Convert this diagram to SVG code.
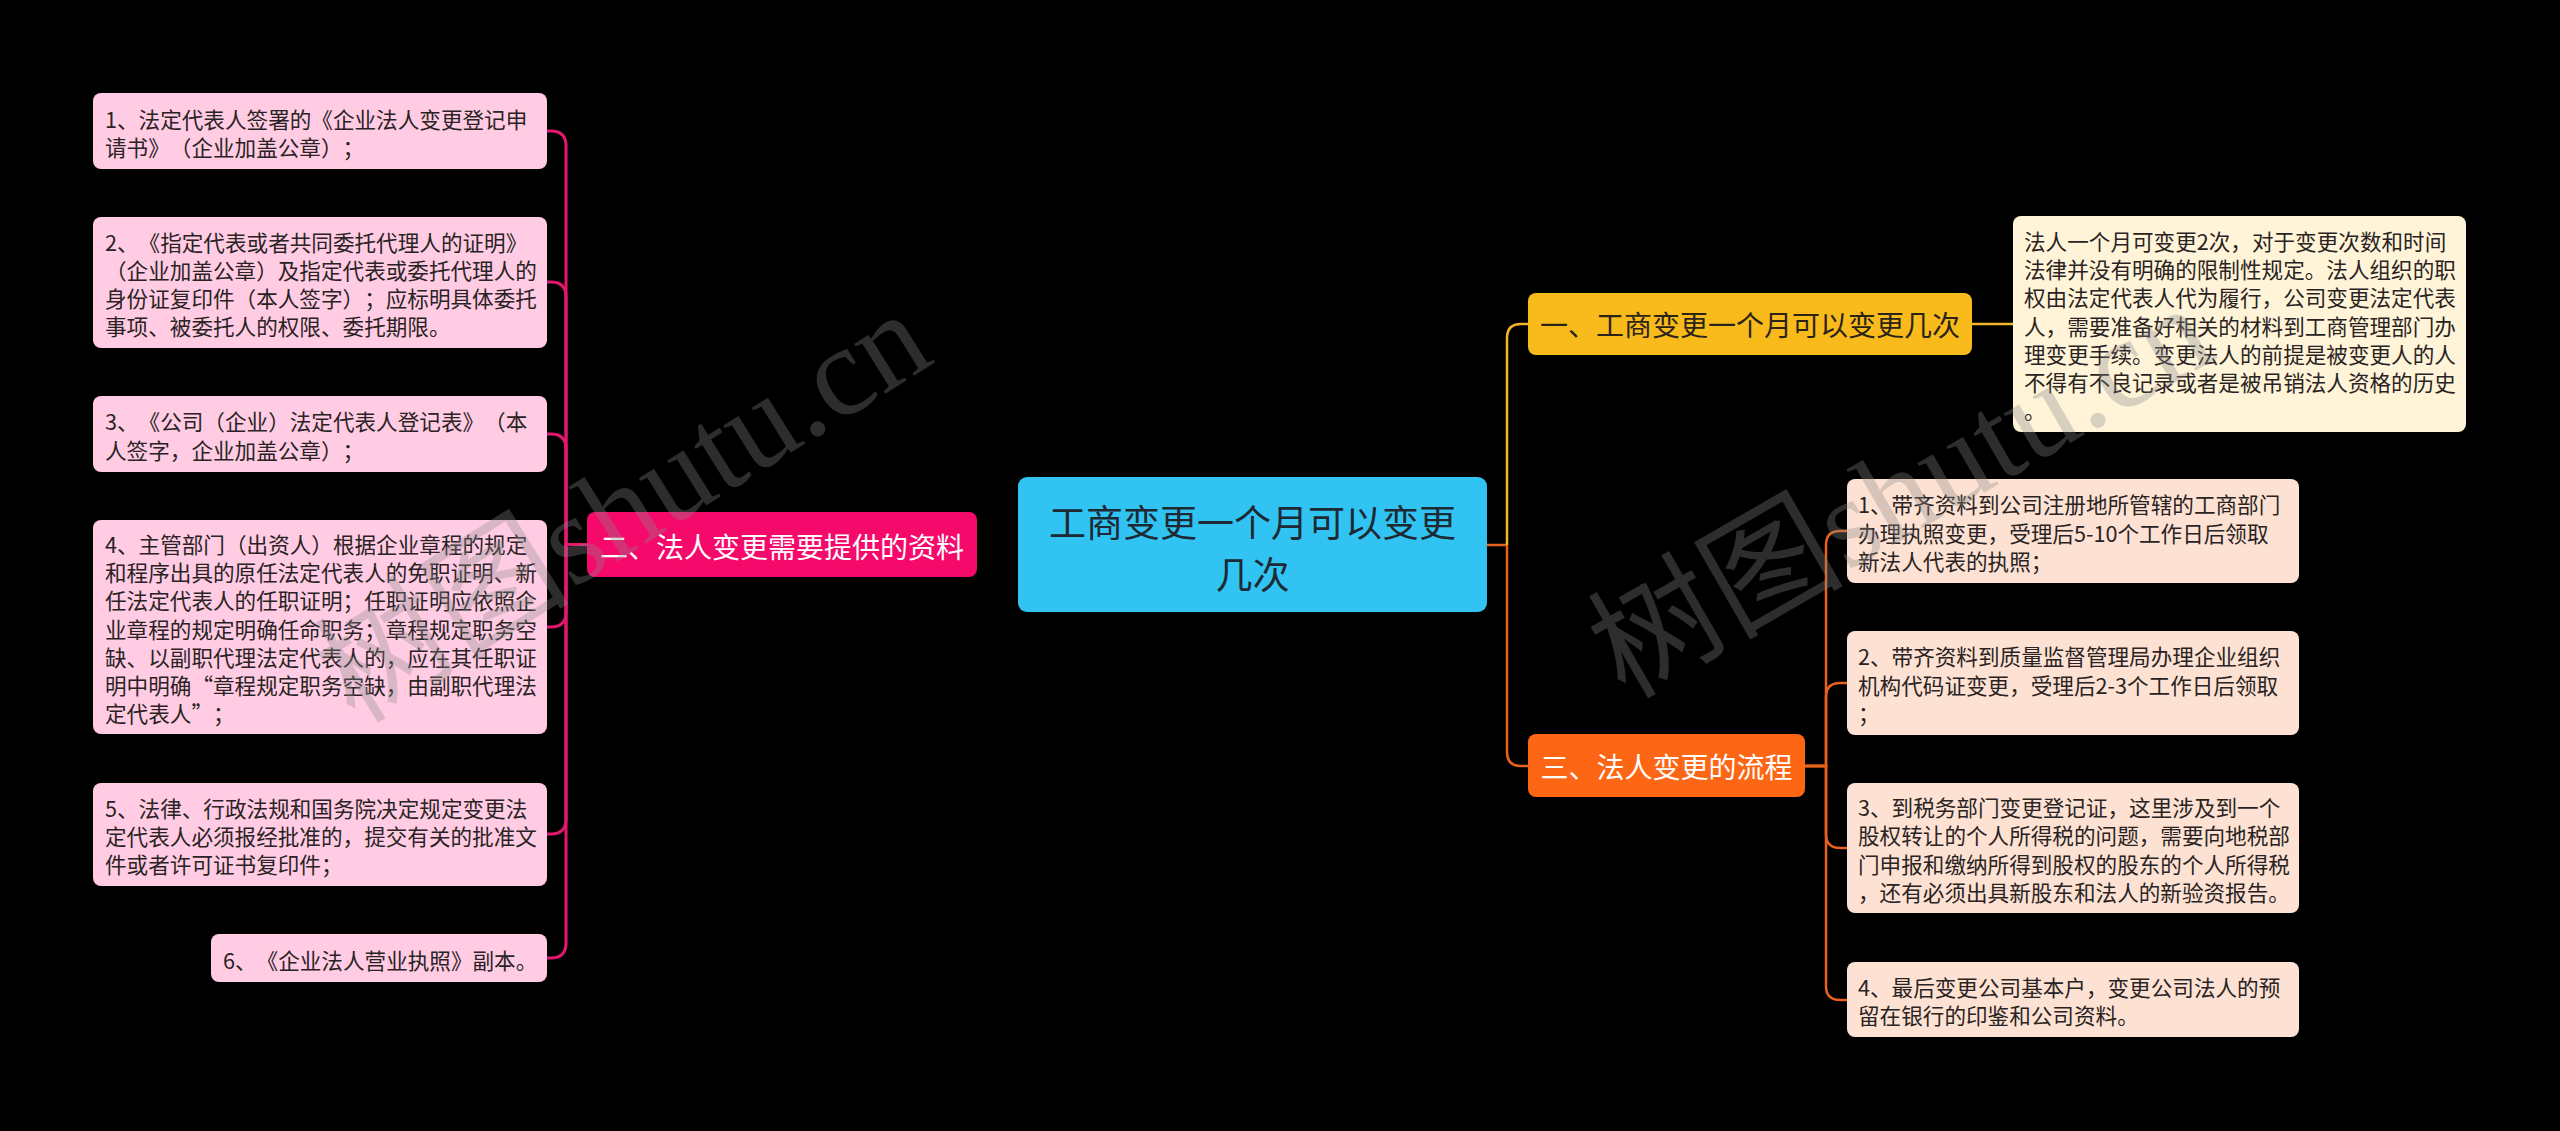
<svg xmlns="http://www.w3.org/2000/svg" width="2560" height="1131" viewBox="0 0 2560 1131">
<style>
text{text-spacing-trim:space-all;}
.t{font-family:"Noto Sans CJK SC","Liberation Sans",sans-serif;font-size:21.6px;fill:#2a2323;}
.b{font-family:"Noto Sans CJK SC","Liberation Sans",sans-serif;font-size:28px;}
.pk{fill:#FFCCE4;}
.pc{fill:#FDE2D3;}
.lp{fill:none;stroke:#E3176E;stroke-width:3;}
.ly{fill:none;stroke:#F3B62A;stroke-width:2.5;}
.lo{fill:none;stroke:#E8621C;stroke-width:2.5;}
.wm{font-family:"Liberation Serif","Noto Sans CJK SC",serif;font-size:128px;fill:#8a8a8a;opacity:0.33;}
</style>
<rect x="0" y="0" width="2560" height="1131" fill="#000000"/>

<g id="connectors">
  <path class="lp" d="M587,544.5 H566 V146 Q566,131 551,131 H547"/>
  <path class="lp" d="M587,544.5 H566 V297 Q566,282 551,282 H547"/>
  <path class="lp" d="M587,544.5 H566 V449 Q566,434 551,434 H547"/>
  <path class="lp" d="M587,544.5 H566 V612 Q566,627 551,627 H547"/>
  <path class="lp" d="M587,544.5 H566 V819 Q566,834 551,834 H547"/>
  <path class="lp" d="M587,544.5 H566 V943 Q566,958 551,958 H547"/>
  <path class="lo" d="M1487,545 H1507"/>
  <path class="ly" d="M1507,545 V338 Q1507,324 1521,324 H1528"/>
  <path class="lo" d="M1507,545 V752 Q1507,766 1521,766 H1528"/>
  <path class="ly" d="M1972,324 H2013"/>
  <path class="lo" d="M1805,766 H1826 V545 Q1826,531 1840,531 H1847"/>
  <path class="lo" d="M1805,766 H1826 V697 Q1826,683 1840,683 H1847"/>
  <path class="lo" d="M1805,766 H1826 V834 Q1826,848 1840,848 H1847"/>
  <path class="lo" d="M1805,766 H1826 V986 Q1826,1000 1840,1000 H1847"/>
</g>

<g id="root">
  <rect x="1018" y="477" width="469" height="135" rx="9" fill="#31C4F3"/>
  <text class="b" x="1252.5" y="537" text-anchor="middle" style="font-size:37px;fill:#1d2a33">工商变更一个月可以变更</text>
  <text class="b" x="1252.5" y="589" text-anchor="middle" style="font-size:37px;fill:#1d2a33">几次</text>
</g>

<g id="branch-2">
  <rect x="587" y="512" width="390" height="65" rx="8" fill="#F5096B"/>
  <text class="b" x="782" y="558" text-anchor="middle" fill="#ffffff">二、法人变更需要提供的资料</text>
</g>

<g id="branch-1">
  <rect x="1528" y="293" width="444" height="62" rx="8" fill="#F9BB1B"/>
  <text class="b" x="1750" y="336" text-anchor="middle" fill="#2a2318">一、工商变更一个月可以变更几次</text>
</g>

<g id="branch-3">
  <rect x="1528" y="734" width="277" height="63" rx="8" fill="#FC6614"/>
  <text class="b" x="1666.5" y="778" text-anchor="middle" fill="#ffffff">三、法人变更的流程</text>
</g>

<g id="l1">
  <rect class="pk" x="93" y="93" width="454" height="76" rx="8"/>
  <text class="t" x="105" y="127.6">1、法定代表人签署的《企业法人变更登记申</text>
  <text class="t" x="105" y="156">请书》（企业加盖公章）；</text>
</g>
<g id="l2">
  <rect class="pk" x="93" y="217" width="454" height="131" rx="8"/>
  <text class="t" x="105" y="250.5">2、《指定代表或者共同委托代理人的证明》</text>
  <text class="t" x="105" y="278.8">（企业加盖公章）及指定代表或委托代理人的</text>
  <text class="t" x="105" y="307.1">身份证复印件（本人签字）；应标明具体委托</text>
  <text class="t" x="105" y="335.4">事项、被委托人的权限、委托期限。</text>
</g>
<g id="l3">
  <rect class="pk" x="93" y="396" width="454" height="76" rx="8"/>
  <text class="t" x="105" y="430.3">3、《公司（企业）法定代表人登记表》（本</text>
  <text class="t" x="105" y="458.6">人签字，企业加盖公章）；</text>
</g>
<g id="l4">
  <rect class="pk" x="93" y="520" width="454" height="214" rx="8"/>
  <text class="t" x="105" y="552.6">4、主管部门（出资人）根据企业章程的规定</text>
  <text class="t" x="105" y="580.9">和程序出具的原任法定代表人的免职证明、新</text>
  <text class="t" x="105" y="609.2">任法定代表人的任职证明；任职证明应依照企</text>
  <text class="t" x="105" y="637.5">业章程的规定明确任命职务；章程规定职务空</text>
  <text class="t" x="105" y="665.8">缺、以副职代理法定代表人的，应在其任职证</text>
  <text class="t" x="105" y="694.1">明中明确“章程规定职务空缺，由副职代理法</text>
  <text class="t" x="105" y="722.4">定代表人”；</text>
</g>
<g id="l5">
  <rect class="pk" x="93" y="783" width="454" height="103" rx="8"/>
  <text class="t" x="105" y="816.7">5、法律、行政法规和国务院决定规定变更法</text>
  <text class="t" x="105" y="845">定代表人必须报经批准的，提交有关的批准文</text>
  <text class="t" x="105" y="873.3">件或者许可证书复印件；</text>
</g>
<g id="l6">
  <rect class="pk" x="211" y="934" width="336" height="48" rx="8"/>
  <text class="t" x="223" y="968.5">6、《企业法人营业执照》副本。</text>
</g>

<g id="n1">
  <rect x="2013" y="216" width="453" height="216" rx="8" fill="#FFF4D8"/>
  <text class="t" x="2024" y="249.6">法人一个月可变更2次，对于变更次数和时间</text>
  <text class="t" x="2024" y="277.9">法律并没有明确的限制性规定。法人组织的职</text>
  <text class="t" x="2024" y="306.2">权由法定代表人代为履行，公司变更法定代表</text>
  <text class="t" x="2024" y="334.5">人，需要准备好相关的材料到工商管理部门办</text>
  <text class="t" x="2024" y="362.8">理变更手续。变更法人的前提是被变更人的人</text>
  <text class="t" x="2024" y="391.1">不得有不良记录或者是被吊销法人资格的历史</text>
  <text class="t" x="2024" y="419.4">。</text>
</g>

<g id="r1">
  <rect class="pc" x="1847" y="479" width="452" height="104" rx="8"/>
  <text class="t" x="1858" y="513.2">1、带齐资料到公司注册地所管辖的工商部门</text>
  <text class="t" x="1858" y="541.5">办理执照变更，受理后5-10个工作日后领取</text>
  <text class="t" x="1858" y="569.8">新法人代表的执照；</text>
</g>
<g id="r2">
  <rect class="pc" x="1847" y="631" width="452" height="104" rx="8"/>
  <text class="t" x="1858" y="665.2">2、带齐资料到质量监督管理局办理企业组织</text>
  <text class="t" x="1858" y="693.5">机构代码证变更，受理后2-3个工作日后领取</text>
  <text class="t" x="1858" y="721.8">；</text>
</g>
<g id="r3">
  <rect class="pc" x="1847" y="783" width="452" height="130" rx="8"/>
  <text class="t" x="1858" y="816">3、到税务部门变更登记证，这里涉及到一个</text>
  <text class="t" x="1858" y="844.3">股权转让的个人所得税的问题，需要向地税部</text>
  <text class="t" x="1858" y="872.6">门申报和缴纳所得到股权的股东的个人所得税</text>
  <text class="t" x="1858" y="900.9">，还有必须出具新股东和法人的新验资报告。</text>
</g>
<g id="r4">
  <rect class="pc" x="1847" y="962" width="452" height="75" rx="8"/>
  <text class="t" x="1858" y="995.9">4、最后变更公司基本户，变更公司法人的预</text>
  <text class="t" x="1858" y="1024.2">留在银行的印鉴和公司资料。</text>
</g>

<g id="watermark">
  <text class="wm" transform="translate(355,725) rotate(-32)">树图shutu.cn</text>
  <text class="wm" transform="translate(1625,700) rotate(-30)">树图shutu.cn</text>
</g>
</svg>
